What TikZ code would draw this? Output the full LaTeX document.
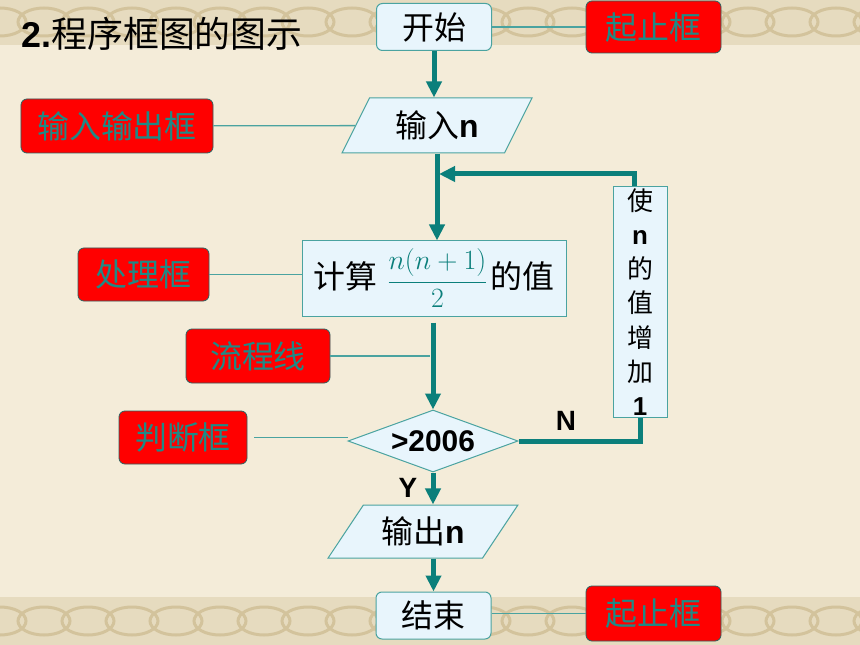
\documentclass[tikz,border=0pt]{standalone}
\usepackage{fix-cm}
\usepackage{fontspec}
\setmainfont{Liberation Sans}
\newfontfamily\cjk{Noto Sans CJK SC}
\usetikzlibrary{arrows.meta,shapes.geometric}
\definecolor{flowteal}{HTML}{0B7F7B}
\definecolor{thinteal}{HTML}{4AA3A0}
\definecolor{tagtext}{HTML}{1E8A86}
\definecolor{boxblue}{HTML}{E8F5FC}
\definecolor{paper}{HTML}{F4ECD9}
\definecolor{band}{HTML}{E6DBBF}
\definecolor{knot}{HTML}{D3C39C}
\tikzset{%
  >={Triangle[width=15bp,length=16bp]},
  % Specifications for style of nodes:
            base/.style = {rectangle, draw=thinteal, fill=boxblue, line width=1bp,
                           inner sep=0pt, text centered, font=\fontsize{32}{36}\selectfont},
            term/.style = {base, rounded corners=6bp, minimum width=115bp, minimum height=47bp},
              io/.style = {base, trapezium, trapezium stretches=true, minimum width=190bp},
            proc/.style = {base, minimum width=264bp, minimum height=75bp},
            cond/.style = {base, diamond, aspect=2.7, minimum width=170bp, minimum height=62bp,
                           font=\bfseries\fontsize{30}{34}\selectfont},
             tag/.style = {rectangle, rounded corners=6bp, draw=thinteal!60!black, fill=red,
                           line width=0.8bp, text=tagtext, inner sep=0pt,
                           font=\cjk\fontsize{32}{36}\selectfont},
            flow/.style = {draw=flowteal, line width=5bp},
         pointer/.style = {draw=thinteal, line width=1.3bp}
}
\begin{document}
\begin{tikzpicture}[x=1bp, y=-1bp]
  \useasboundingbox (0,0) rectangle (860,645);

  % paper and the two decorated bands
  \fill[paper] (0,0) rectangle (860,645);
  \fill[band] (0,0) rectangle (860,45);
  \fill[band] (0,597) rectangle (860,645);
  \foreach \x in {0,44,...,880} {
    \draw[knot, line width=3bp] (\x,22) ellipse (26 and 14);
    \draw[knot, line width=3bp] (\x,621) ellipse (26 and 14);
  }

  % Specification of nodes (position, etc.)
  \node (title)  [anchor=west, font=\fontsize{36}{40}\selectfont] at (18,34)
        {\textbf{2.}{\cjk 程序框图的图示}};
  \node (start)  [term]  at (434,27)    {\cjk 开始};
  \node (input)  [io, trapezium left angle=60, trapezium right angle=120,
                  minimum height=55bp] at (437,125.5) {{\cjk 输入}\textbf{n}};
  \node (calc)   [proc]  at (434,278.5)
        {{\cjk 计算}\hspace{10bp}{\color{flowteal}\fontsize{28}{32}\selectfont
         $\displaystyle\frac{n(n+1)}{2}$}\hspace{3bp}{\cjk 的值}};
  \node (decide) [cond]  at (433,441)   {>2006};
  \node (output) [io, trapezium left angle=50, trapezium right angle=130,
                  minimum height=53bp] at (423,531.5) {{\cjk 输出}\textbf{n}};
  \node (finish) [term]  at (433.5,615.5) {\cjk 结束};
  \node (incr)   [base, minimum width=54bp, minimum height=230bp, align=center,
                  font=\fontsize{26}{34.3}\selectfont] at (640,302)
        {{\cjk 使}\\\textbf{n}\\{\cjk 的}\\{\cjk 值}\\{\cjk 增}\\{\cjk 加}\\\textbf{1}};

  \node (tagtop)  [tag, minimum width=135bp, minimum height=52bp] at (653.5,27)    {起止框};
  \node (tagio)   [tag, minimum width=192bp, minimum height=54bp] at (117,126)     {输入输出框};
  \node (tagproc) [tag, minimum width=131bp, minimum height=53bp] at (143.5,274.5) {处理框};
  \node (tagflow) [tag, minimum width=144bp, minimum height=54bp] at (258,356)     {流程线};
  \node (tagcond) [tag, minimum width=128bp, minimum height=53bp] at (183,437.5)   {判断框};
  \node (tagbot)  [tag, minimum width=135bp, minimum height=55bp] at (653.5,613.5) {起止框};

  \node (no)  [font=\bfseries\fontsize{28}{30}\selectfont] at (566,421) {N};
  \node (yes) [font=\bfseries\fontsize{28}{30}\selectfont] at (408,488) {Y};

  \coordinate (join)   at (439,174);
  \coordinate (flowpt) at (430,356);

  % Specification of lines between nodes specified above
  \draw[flow, ->] (start.south) -- (start.south |- input.north);
  \draw[flow, ->] (input.south) -- (input.south |- calc.north);
  \draw[flow, ->] ([yshift=-6bp]decide.north |- calc.south) -- (decide.north);
  \draw[flow, ->] (decide.south) -- (decide.south |- output.north);
  \draw[flow, ->] (finish.north |- output.south) -- (finish.north);
  \draw[flow]     (decide.east) -| (incr.south);
  \draw[flow, ->] ([xshift=-6bp]incr.north) |- (join);

  % thin pointers from the red labels
  \draw[pointer] (start) -- (tagtop);
  \draw[pointer] (tagio) -- (input);
  \draw[pointer] (tagproc.east) -- (tagproc.east -| calc.west);
  \draw[pointer] (tagflow) -- (flowpt);
  \draw[pointer] ([xshift=7bp]tagcond.east) -- (tagcond.east -| decide.west);
  \draw[pointer] (tagbot.west -| finish.east) -- (tagbot.west);
\end{tikzpicture}
\end{document}
